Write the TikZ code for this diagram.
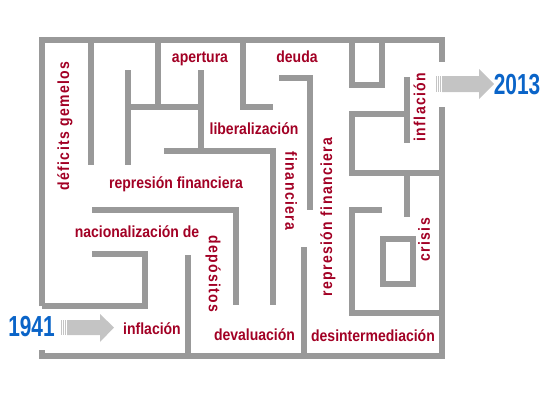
\documentclass[tikz,border=0pt]{standalone}
\usepackage{fontspec}
\setmainfont{Liberation Sans}
\newfontfamily\spacedfont{Liberation Sans}[LetterSpace=10]
\definecolor{wallgray}{RGB}{153,153,153}
\definecolor{mazered}{RGB}{162,0,36}
\definecolor{yearblue}{RGB}{10,100,200}
\definecolor{arrowgray}{RGB}{196,196,196}
\definecolor{stripegray}{RGB}{215,215,215}
\newcommand{\tall}[1]{\scalebox{1}[1.15]{#1}}
\tikzset{
  wall/.style={draw=wallgray, line width=6pt, line join=miter},
  lbl/.style={text=mazered, font=\bfseries\fontsize{14}{16}\selectfont, inner sep=0pt},
  vlbl/.style={text=mazered, font=\spacedfont\bfseries\fontsize{14}{16}\selectfont, inner sep=0pt},
  year/.style={text=yearblue, font=\bfseries\fontsize{29}{30}\selectfont, inner sep=0pt, anchor=base},
  arrowbody/.style={fill=arrowgray, draw=none},
  stripe/.style={fill=arrowgray, draw=none}
}
\begin{document}
\begin{tikzpicture}[x=1pt,y=-1pt]
\useasboundingbox (0,0) rectangle (543,407);
% outer frame
\draw[wall] (42,306) -- (42,40) -- (442,40) -- (442,62);
\draw[wall] (442,107) -- (442,356) -- (42,356) -- (42,350);
% interior walls
\draw[wall] (91,40) -- (91,165);
\draw[wall] (128,70) -- (128,165);
\draw[wall] (128,106.5) -- (200.5,106.5);
\draw[wall] (158,40) -- (158,106.5);
\draw[wall] (200.5,70) -- (200.5,151);
\draw[wall] (164,151) -- (273,151) -- (273,305);
\draw[wall] (243,40) -- (243,107) -- (273,107);
\draw[wall] (279,77.5) -- (310,77.5) -- (310,210);
\draw[wall] (352,40) -- (352,85) -- (382,85) -- (382,40);
\draw[wall] (407,77) -- (407,143);
\draw[wall] (407,114) -- (352,114) -- (352,172.5) -- (442,172.5);
\draw[wall] (407,172.5) -- (407,217);
\draw[wall] (382,209.5) -- (352,209.5) -- (352,313) -- (442,313);
\draw[wall] (383,238.5) rectangle (413,284);
\draw[wall] (304,247) -- (304,356);
\draw[wall] (188,255) -- (188,356);
\draw[wall] (92,209.5) -- (236,209.5) -- (236,305);
\draw[wall] (92,254) -- (145,254) -- (145,306) -- (42,306);
% arrows
\fill[stripe] (61,320) rectangle (62.2,335);
\fill[stripe] (63,320) rectangle (64.2,335);
\fill[stripe] (65,320) rectangle (66.2,335);
\path[arrowbody] (67,320) -- (100,320) -- (100,314) -- (114,327.5) -- (100,342) -- (100,335) -- (67,335) -- cycle;
\fill[stripe] (436,76) rectangle (437.2,92);
\fill[stripe] (438,76) rectangle (439.2,92);
\fill[stripe] (440,76) rectangle (441.2,92);
\path[arrowbody] (442,76) -- (479,76) -- (479,69) -- (494,84) -- (479,99) -- (479,92) -- (442,92) -- cycle;
% years
\node[year] (y1941) at (31.5,336) {\scalebox{0.72}[1]{1941}};
\node[year] (y2013) at (517,94) {\scalebox{0.72}[1]{2013}};
% horizontal labels
\node[lbl, anchor=base] (apertura) at (200,62) {\tall{apertura}};
\node[lbl, anchor=base] (deuda) at (297,62) {\tall{deuda}};
\node[lbl, anchor=base] (liber) at (254,134) {\tall{liberalización}};
\node[lbl, anchor=base] (repfin) at (176,188) {\tall{represión financiera}};
\node[lbl, anchor=base] (nacio) at (137,237) {\tall{nacionalización de}};
\node[lbl, anchor=base] (infl1) at (152,334) {\tall{inflación}};
\node[lbl, anchor=base] (deval) at (254.5,340.5) {\tall{devaluación}};
\node[lbl, anchor=base] (desint) at (373,341) {\tall{desintermediación}};
% vertical labels
\node[vlbl, rotate=90] (defic) at (65,126) {\tall{déficits gemelos}};
\node[vlbl, rotate=-90] (finan) at (291,191) {\tall{financiera}};
\node[vlbl, rotate=-90] (depos) at (213,274) {\tall{depósitos}};
\node[vlbl, rotate=90] (repfin2) at (328,217) {\tall{represión financiera}};
\node[vlbl, rotate=90] (infl2) at (419.5,107) {\tall{inflación}};
\node[vlbl, rotate=90] (crisis) at (424,240) {\tall{crisis}};
\end{tikzpicture}
\end{document}
